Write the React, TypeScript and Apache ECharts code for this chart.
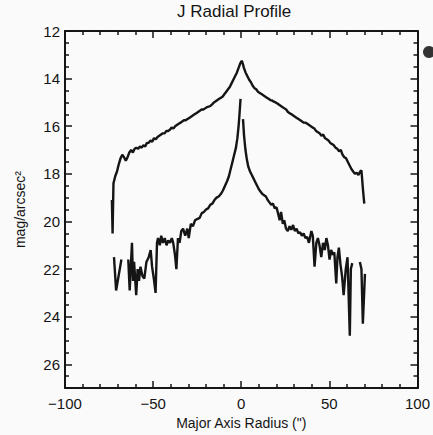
import React, { useEffect, useRef } from "react";
import * as echarts from "echarts";

const titleText = "J Radial Profile";
const xName = 'Major Axis Radius (")';
const yName = "mag/arcsec²";

// Upper (disk) profile
const upperX = [
  -73.4, -73.0, -72.5, -71.5, -70.5, -69.5, -68.5, -67.5, -66.5, -65.5, -64.5, -63.5, -62.5, -61.5,
  -60.5, -59.5, -58.5, -57.5, -56.5, -55.5, -54.5, -53.5, -52.5, -51.5, -50.5, -49.5, -48.5, -47.5,
  -46.5, -45.5, -44.5, -43.5, -42.5, -41.5, -40.5, -39.5, -38.5, -37.5, -36.5, -35.5, -34.5, -33.5,
  -32.5, -31.5, -30.5, -29.5, -28.5, -27.5, -26.5, -25.5, -24.5, -23.5, -22.5, -21.5, -20.5, -19.5,
  -18.5, -17.5, -16.5, -15.5, -14.5, -13.5, -12.5, -11.5, -10.5, -9.5, -8.5, -7.5, -6.5, -5.5,
  -4.5, -3.5, -2.5, -1.5, -0.5, 0.3,
  1.0, 1.5, 2.5, 3.5, 4.5, 5.5, 6.5, 7.5, 8.5, 9.5, 10.5, 11.5, 12.5, 13.5, 14.5, 15.5, 16.5, 17.5,
  18.5, 19.5, 20.5, 21.5, 22.5, 23.5, 24.5, 25.5, 26.5, 27.5, 28.5, 29.5, 30.5, 31.5, 32.5, 33.5,
  34.5, 35.5, 36.5, 37.5, 38.5, 39.5, 40.5, 41.5, 42.5, 43.5, 44.5, 45.5, 46.5, 47.5, 48.5, 49.5,
  50.5, 51.5, 52.5, 53.5, 54.5, 55.5, 56.5, 57.5, 58.5, 59.5, 60.5, 61.5, 62.5, 63.5, 64.5, 65.5,
  66.5, 67.5, 68.2, 69.0, 69.8,
];
const upperV = [
  19.1, 20.5, 18.4, 18.1, 17.9, 17.6, 17.35, 17.2, 17.3, 17.45, 17.3, 17.1, 17.0, 17.1,
  16.95, 16.9, 16.95, 16.85, 16.9, 16.8, 16.85, 16.7, 16.7, 16.6, 16.65, 16.5, 16.55, 16.45,
  16.4, 16.35, 16.3, 16.3, 16.2, 16.2, 16.15, 16.05, 16.1, 16.0, 15.95, 15.9, 15.85, 15.8,
  15.75, 15.75, 15.7, 15.65, 15.6, 15.55, 15.5, 15.45, 15.4, 15.35, 15.3, 15.3, 15.25, 15.2,
  15.18, 15.15, 15.08, 15.0, 14.95, 14.9, 14.85, 14.8, 14.75, 14.65, 14.55, 14.45, 14.35, 14.2,
  14.05, 13.9, 13.75, 13.55, 13.35, 13.25,
  13.4, 13.55, 13.75, 13.9, 14.05, 14.15, 14.3, 14.4, 14.45, 14.55, 14.6, 14.65, 14.7, 14.75, 14.8, 14.85, 14.9, 14.92,
  14.97, 15.0, 15.05, 15.1, 15.15, 15.2, 15.25, 15.3, 15.4, 15.45, 15.5, 15.55, 15.6, 15.65, 15.7, 15.75,
  15.8, 15.85, 15.85, 15.9, 15.95, 16.0, 16.05, 16.1, 16.2, 16.25, 16.3, 16.4, 16.35, 16.5, 16.55, 16.6,
  16.7, 16.75, 16.8, 16.9, 16.95, 17.05, 17.0, 17.2, 17.3, 17.35, 17.5, 17.65, 17.8, 17.9, 18.0, 17.95,
  18.05, 17.9, 17.85, 18.6, 19.25,
];

// Lower (bulge/nucleus) profile, null marks a gap in the trace
const lowerX = [
  -72.2, -71.0, -68.0, -66.0,
  -64.1, -63.3, -62.6, -62.0, -61.4, -60.8, -59.6, -58.8, -58.0, -57.2, -56.0, -55.0, -53.8, -52.5,
  -51.4, -50.6, -49.6, -48.6, -47.8, -47.2, -46.2, -45.4, -44.4, -43.4, -42.4, -41.4, -40.4, -39.4,
  -38.6, -37.6, -36.8, -35.9, -35.0, -34.0, -33.0, -31.8, -30.6, -29.8, -28.6, -27.4, -26.2, -25.0,
  -23.6, -22.4, -21.2, -20.0, -18.8, -17.6, -16.4, -15.2, -14.0, -12.8, -11.6, -10.4, -9.2, -8.0,
  -7.0, -6.0, -5.0, -4.0, -3.0, -2.2, -1.5, -1.0, -0.4, 0.3,
  1.0, 1.6, 2.4, 3.2, 4.0, 5.0, 6.0, 7.0, 8.0, 9.0, 10.0, 11.0, 12.0, 13.0, 14.0, 15.0, 16.0, 17.0,
  18.0, 19.0, 20.0, 21.0, 21.8, 22.6, 23.6, 24.4, 25.4, 26.4, 27.4, 28.4, 29.4, 30.4, 31.4, 32.4,
  33.4, 34.4, 35.4, 36.4, 37.4, 38.4, 38.8, 39.8, 40.6, 41.6, 42.6, 43.5, 44.4, 45.4, 46.4, 47.4,
  48.3, 49.2, 50.1, 51.0, 52.0, 52.8, 53.9, 54.6, 55.4, 56.3, 57.2, 58.1, 59.3, 60.3, 61.6, 62.2,
  63.0, 65.0,
  67.3, 68.2, 69.0, 70.2,
];
const lowerV: (number | null)[] = [
  21.5, 22.9, 21.6, null,
  21.6, 22.9, 21.8, 20.9, 22.5, 21.7, 23.1, 22.0, 22.5, 21.9, 22.3, 22.4, 21.7, 21.5,
  21.2, 21.9, 22.4, 23.0, 20.9, 20.7, 21.0, 20.6, 20.9, 20.7, 21.0, 20.8, 20.9, 20.7,
  20.9, 21.4, 22.0, 20.7, 20.9, 20.4, 20.3, 20.6, 20.3, 20.7, 20.1, 20.2, 19.95, 19.9,
  19.85, 19.65, 19.6, 19.5, 19.45, 19.3, 19.25, 19.1, 19.0, 18.95, 18.85, 18.7, 18.5, 18.3,
  18.1, 17.8, 17.5, 17.2, 16.9, 16.5, 16.0, 15.5, 14.85, null,
  15.7, 16.4, 17.0, 17.4, 17.7, 17.9, 18.05, 18.2, 18.35, 18.5, 18.65, 18.75, 18.85, 18.9, 18.95, 19.1, 19.2, 19.3,
  19.25, 19.45, 19.4, 19.7, 19.95, 19.6, 20.1, 19.95, 20.3, 20.4, 20.2, 20.35, 20.15, 20.4, 20.3, 20.5,
  20.45, 20.6, 20.5, 20.7, 20.65, 20.9, 20.9, 20.4, 20.6, 21.9, 20.9, 20.7, 21.0, 21.5, 20.9, 21.2,
  20.7, 21.0, 21.6, 21.2, 21.4, 21.3, 22.6, 21.5, 21.1, 21.8, 22.3, 23.1, 22.0, 21.5, 24.8, 22.0,
  21.75, null,
  21.7, 22.0, 24.3, 22.2,
];

const xMin = -100;
const xMax = 100;
const xStep = 50;
const yMin = 12;
const yMax = 27;
const yStep = 2;

const FONT = "'Liberation Sans', Arial, Helvetica, sans-serif";
const INK = "#151515";

const toPairs = (xs: number[], vs: (number | null)[]) =>
  xs.map((x, i) => [x, vs[i] === null ? "-" : vs[i]]);

export default function App() {
  const ref = useRef<HTMLDivElement>(null);

  useEffect(() => {
    if (!ref.current) return;
    const chart = echarts.init(ref.current, undefined, { renderer: "svg" });

    const lineStyle = { color: INK, width: 2 };
    const tickStyle = { color: INK, width: 1.5 };

    const xBase = {
      type: "value" as const,
      min: xMin,
      max: xMax,
      interval: xStep,
      axisLine: { show: true, onZero: false, lineStyle },
      axisTick: { show: true, inside: true, length: 7, lineStyle: tickStyle },
      minorTick: { show: true, splitNumber: 5, length: 4, lineStyle: tickStyle },
      splitLine: { show: false },
    };
    const yBase = {
      type: "value" as const,
      min: yMin,
      max: yMax,
      interval: yStep,
      inverse: true,
      axisLine: { show: true, onZero: false, lineStyle },
      axisTick: { show: true, inside: true, length: 7, lineStyle: tickStyle },
      minorTick: { show: true, splitNumber: 4, length: 4, lineStyle: tickStyle },
      splitLine: { show: false },
    };

    chart.setOption({
      animation: false,
      backgroundColor: "#fafafa",
      grid: { left: 65, right: 15, top: 31, bottom: 42, containLabel: false },
      xAxis: [
        {
          ...xBase,
          position: "bottom",
          axisLabel: {
            color: INK,
            fontSize: 15,
            fontFamily: FONT,
            margin: 8,
            formatter: (v: number) => String(v).replace("-", "\u2212"),
          },
          name: xName,
          nameLocation: "middle",
          nameGap: 20,
          nameTextStyle: { color: INK, fontSize: 14, fontFamily: FONT },
        },
        { ...xBase, position: "top", axisLabel: { show: false } },
      ],
      yAxis: [
        {
          ...yBase,
          position: "left",
          axisLabel: {
            color: INK,
            fontSize: 15,
            fontFamily: FONT,
            margin: 5,
            showMaxLabel: false,
          },
          name: yName,
          nameLocation: "middle",
          nameRotate: 90,
          nameGap: 38,
          nameTextStyle: { color: INK, fontSize: 14, fontFamily: FONT },
        },
        { ...yBase, position: "right", axisLabel: { show: false } },
      ],
      graphic: [
        {
          type: "text",
          left: 241 - 64,
          top: 3,
          style: {
            text: titleText,
            x: 0,
            y: 0,
            fill: INK,
            font: `17px ${FONT}`,
          },
        },
        {
          type: "circle",
          shape: { cx: 429, cy: 52, r: 6 },
          style: { fill: "#333" },
        },
      ],
      series: [
        {
          type: "line",
          xAxisIndex: 0,
          yAxisIndex: 0,
          data: toPairs(upperX, upperV),
          showSymbol: false,
          symbol: "none",
          lineStyle: { color: INK, width: 2.4 },
          connectNulls: false,
        },
        {
          type: "line",
          xAxisIndex: 0,
          yAxisIndex: 0,
          data: toPairs(lowerX, lowerV),
          showSymbol: false,
          symbol: "none",
          lineStyle: { color: INK, width: 2.4 },
          connectNulls: false,
        },
      ],
    });

    return () => chart.dispose();
  }, []);

  return (
    <div
      ref={ref}
      style={{ position: "fixed", left: 0, top: 0, width: 433, height: 435 }}
    />
  );
}
